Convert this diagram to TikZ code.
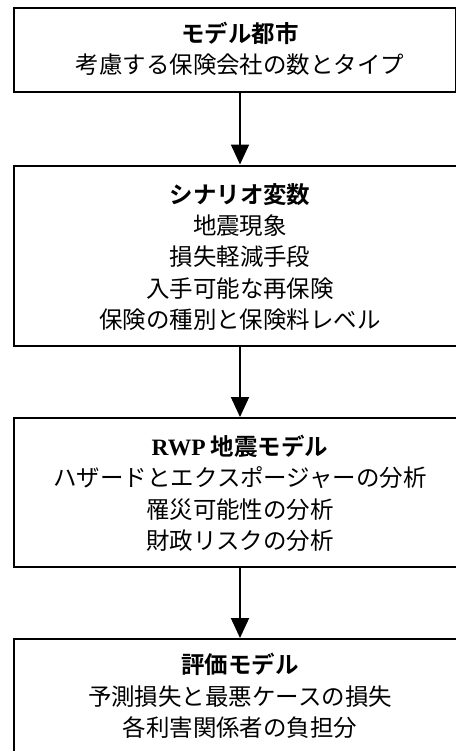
\documentclass[tikz,border=0pt]{standalone}
\usepackage{fontspec}
\setmainfont{Noto Sans CJK JP}[BoldFont={Noto Sans CJK JP Bold}]
\newfontfamily\latinserif{Liberation Serif}
\usetikzlibrary{arrows.meta}
\begin{document}
\begin{tikzpicture}[x=0.75pt,y=-0.75pt,
  boxline/.style={draw=black, line width=1.5pt, rectangle, inner sep=0pt, anchor=north west},
  boxtext/.style={align=center, inner sep=0pt, font=\fontsize{17.6pt}{23.6pt}\selectfont},
  flow/.style={line width=1.5pt, -{Triangle[width=13.5pt,length=15pt]}}]
\useasboundingbox (0,0) rectangle (456,751);
\clip (0,0) rectangle (456,751);
\node (b1) [boxline, minimum width=331.5pt, minimum height=63pt] at (13,7) {};
\node (b2) [boxline, minimum width=340.5pt, minimum height=135.4pt] at (13,164.5) {};
\node (b3) [boxline, minimum width=340.5pt, minimum height=111.75pt] at (13,417) {};
\node (b4) [boxline, minimum width=340.5pt, minimum height=99pt] at (13,638) {};
\node (t1) [boxtext] at (240,49) {{\bfseries モデル都市}\\考慮する保険会社の数とタイプ};
\node (t2) [boxtext] at (240,257) {{\bfseries シナリオ変数}\\地震現象\\損失軽減手段\\入手可能な再保険\\保険の種別と保険料レベル};
\node (t3) [boxtext] at (240,493.5) {{\bfseries{\latinserif\bfseries RWP} 地震モデル}\\ハザードとエクスポージャーの分析\\罹災可能性の分析\\財政リスクの分析};
\node (t4) [boxtext] at (240,696) {{\bfseries 評価モデル}\\予測損失と最悪ケースの損失\\各利害関係者の負担分};
\draw[flow] (b1.south -| t1.center) -- (b2.north -| t1.center);
\draw[flow] (b2.south -| t2.center) -- (b3.north -| t2.center);
\draw[flow] (b3.south -| t3.center) -- (b4.north -| t3.center);
\end{tikzpicture}
\end{document}
